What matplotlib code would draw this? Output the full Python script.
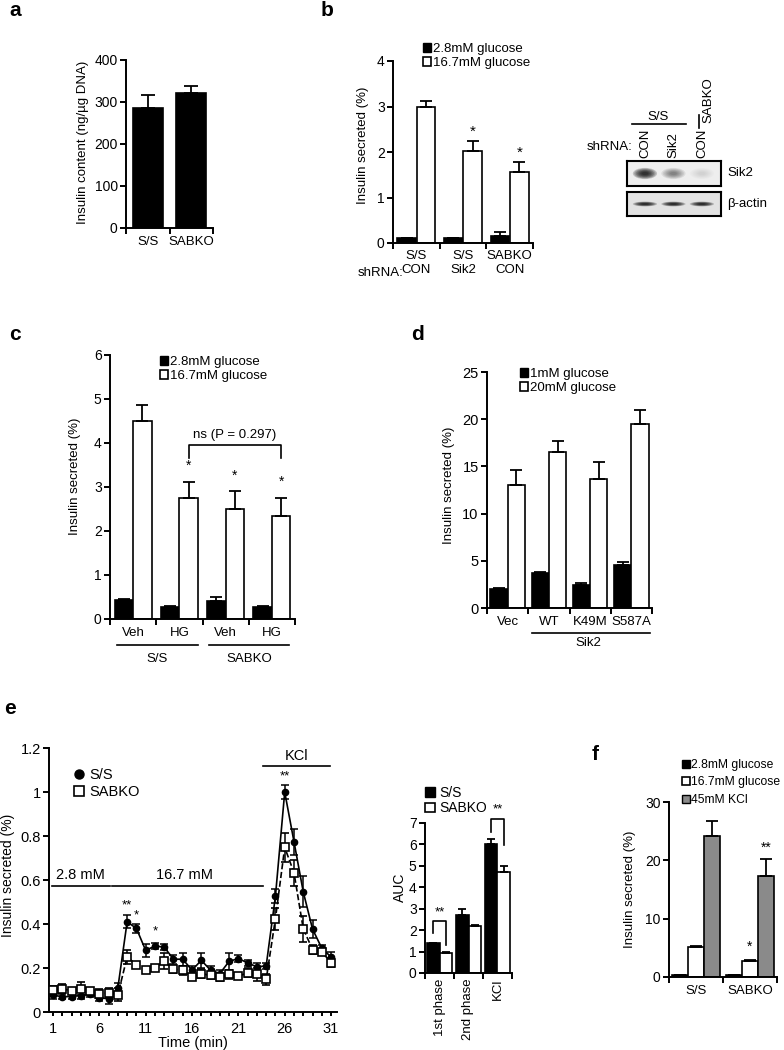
import numpy as np
import matplotlib
matplotlib.use("Agg")
import matplotlib.pyplot as plt
from matplotlib.patches import Patch, Ellipse
from matplotlib.lines import Line2D

W, H = 784, 1050
plt.rcParams['font.family'] = ['Liberation Sans', 'DejaVu Sans']
plt.rcParams['font.size'] = 9.5
plt.rcParams['axes.linewidth'] = 1.4

# --- data ---
a_groups = ["S/S", "SABKO"]
a_vals = [285, 322]
a_err = [32, 15]

b_geno = ["S/S", "S/S", "SABKO"]
b_shrna = ["CON", "Sik2", "CON"]
b_low = [0.10, 0.10, 0.16]
b_low_err = [0.01, 0.01, 0.08]
b_high = [3.0, 2.02, 1.55]
b_high_err = [0.11, 0.23, 0.22]
b_star = ["", "*", "*"]

blot_lanes = ["CON", "Sik2", "CON"]
sik2_band = [0.9, 0.35, 0.08]
actin_band = [0.95, 0.95, 0.95]

c_treat = ["Veh", "HG", "Veh", "HG"]
c_low = [0.43, 0.28, 0.42, 0.27]
c_low_err = [0.03, 0.02, 0.07, 0.02]
c_high = [4.5, 2.74, 2.51, 2.33]
c_high_err = [0.37, 0.38, 0.39, 0.43]
c_star = ["", "*", "*", "*"]

d_labels = ["Vec", "WT", "K49M", "S587A"]
d_low = [2.0, 3.75, 2.4, 4.55]
d_low_err = [0.15, 0.1, 0.2, 0.35]
d_high = [13.07, 16.5, 13.65, 19.45]
d_high_err = [1.55, 1.15, 1.85, 1.55]

e_time = list(range(1, 32))
e_ss = [0.076, 0.07, 0.07, 0.075, 0.08, 0.065, 0.06, 0.11, 0.41, 0.38, 0.28, 0.30,
        0.295, 0.24, 0.24, 0.19, 0.235, 0.19, 0.175, 0.23, 0.243, 0.223, 0.205, 0.21,
        0.527, 1.0, 0.774, 0.546, 0.377, 0.29, 0.25]
e_ss_err = [0.015, 0.01, 0.01, 0.015, 0.01, 0.015, 0.025, 0.02, 0.03, 0.02, 0.03, 0.015,
            0.015, 0.02, 0.03, 0.02, 0.035, 0.02, 0.015, 0.04, 0.015, 0.015, 0.02, 0.015,
            0.03, 0.03, 0.06, 0.07, 0.04, 0.015, 0.025]
e_ko = [0.10, 0.106, 0.096, 0.106, 0.096, 0.083, 0.087, 0.079, 0.25, 0.215, 0.193, 0.20,
        0.232, 0.194, 0.19, 0.16, 0.175, 0.166, 0.158, 0.172, 0.163, 0.178, 0.172, 0.148,
        0.425, 0.748, 0.633, 0.378, 0.284, 0.273, 0.225]
e_ko_err = [0.02, 0.02, 0.015, 0.03, 0.015, 0.02, 0.02, 0.03, 0.03, 0.01, 0.01, 0.015,
            0.035, 0.015, 0.02, 0.015, 0.02, 0.015, 0.015, 0.02, 0.015, 0.02, 0.03, 0.025,
            0.05, 0.065, 0.06, 0.06, 0.02, 0.015, 0.02]

auc_groups = ["1st phase", "2nd phase", "KCl"]
auc_ss = [1.4, 2.71, 6.0]
auc_ss_err = [0.02, 0.27, 0.25]
auc_ko = [0.93, 2.18, 4.72]
auc_ko_err = [0.05, 0.05, 0.27]

f_groups = ["S/S", "SABKO"]
f_low = [0.3, 0.3]
f_low_err = [0.05, 0.05]
f_high = [5.1, 2.75]
f_high_err = [0.2, 0.25]
f_kcl = [24.1, 17.3]
f_kcl_err = [2.7, 2.9]

fig = plt.figure(figsize=(W / 100, H / 100), dpi=100)


def add_ax(l, t, r, b, fs=10):
    ax = fig.add_axes([l / W, 1 - b / H, (r - l) / W, (b - t) / H])
    ax.spines[['top', 'right']].set_visible(False)
    ax.tick_params(direction='out', length=4, width=1.4, pad=2, labelsize=fs)
    return ax


def ftxt(x, y, s, **kw):
    kw.setdefault('ha', 'center')
    kw.setdefault('va', 'center')
    fig.text(x / W, 1 - y / H, s, **kw)


def fline(xs, ys, lw=1.2):
    fig.add_artist(Line2D([x / W for x in xs], [1 - y / H for y in ys], color='black', lw=lw))


def bars(ax, x, vals, err, color, width, capsize=4):
    ax.bar(x, vals, width, color=color, edgecolor='black', linewidth=1.2, zorder=2)
    ax.errorbar(x, vals, yerr=[np.zeros(len(vals)), err], fmt='none', ecolor='black',
                elinewidth=1.3, capsize=capsize, capthick=1.3, zorder=3)


def cat_axis(ax, n, labels=None, pad=6, **kw):
    ax.set_xlim(-0.5, n - 0.5)
    ax.set_xticks(np.arange(n + 1) - 0.5)
    ax.set_xticklabels([])
    if labels is not None:
        ax.set_xticks(np.arange(n), labels, minor=True, **kw)
        ax.tick_params(axis='x', which='minor', length=0, pad=pad)


def legend_at(ax, handles, labels, x, y, fs=9.5, hl=0.6, spacing=0.15, pad=0.15):
    ax.legend(handles, labels, loc='upper left', bbox_to_anchor=(x / W, 1 - y / H),
              bbox_transform=fig.transFigure, frameon=False, borderpad=0, borderaxespad=0,
              handlelength=hl, handleheight=hl, handletextpad=pad, labelspacing=spacing,
              fontsize=fs)


blk = Patch(facecolor='black', edgecolor='black', lw=1)
wht = Patch(facecolor='white', edgecolor='black', lw=1.2)
gry = Patch(facecolor='#8a8a8a', edgecolor='black', lw=1)

# ---------------- a ----------------
ax = add_ax(126, 60, 213, 228)
x = np.arange(len(a_vals))
bars(ax, x, a_vals, a_err, 'black', 0.7, capsize=5)
ax.set_ylim(0, 400)
ax.set_yticks([0, 100, 200, 300, 400])
cat_axis(ax, 2, a_groups)
ftxt(83, 142, "Insulin content (ng/\u00b5g DNA)", rotation=90)

# ---------------- b ----------------
ax = add_ax(393, 61, 533, 243)
x = np.arange(3)
bars(ax, x - 0.21, b_low, b_low_err, 'black', 0.4, capsize=4)
bars(ax, x + 0.21, b_high, b_high_err, 'white', 0.4, capsize=4)
for i in range(3):
    if b_star[i]:
        ax.text(x[i] + 0.21, b_high[i] + b_high_err[i] + 0.05, b_star[i], ha='center', va='bottom', fontsize=11)
ax.set_ylim(0, 4)
ax.set_yticks([0, 1, 2, 3, 4])
cat_axis(ax, 3, [f"{g}\n{s}" for g, s in zip(b_geno, b_shrna)], pad=5, linespacing=1.25)
ftxt(363, 145, "Insulin secreted (%)", rotation=90)
ftxt(403, 273, "shRNA:", ha='right')
legend_at(ax, [blk, wht], ["2.8mM glucose", "16.7mM glucose"], 423, 43)

# western blot
for (top, bot, inten, lab, hgt, bg) in [(161, 186, sik2_band, "Sik2", 0.45, '#eeeeee'),
                                        (192, 216, actin_band, "\u03b2-actin", 0.2, '#e2e2e2')]:
    bx = fig.add_axes([627 / W, 1 - bot / H, 94 / W, (bot - top) / H])
    bx.set_xlim(-0.63, 2.67)
    bx.set_ylim(0, 1)
    bx.set_xticks([])
    bx.set_yticks([])
    bx.set_facecolor(bg)
    for s in bx.spines.values():
        s.set_linewidth(1.5)
    for i, v in enumerate(inten):
        for k in range(7):
            sc = 1 - k * 0.12
            bx.add_patch(Ellipse((i, 0.5), 0.85 * sc, hgt * sc, color='black', alpha=v * 0.22, lw=0))
    ftxt(727, (top + bot) / 2, lab, ha='left')
for i, lane in enumerate(blot_lanes):
    ftxt(645 + 28.5 * i, 158, lane, rotation=90, va='bottom')
ftxt(632, 147, "shRNA:", ha='right')
ftxt(658, 117, "S/S")
fline([632, 686], [124, 124])
fline([699, 699], [115, 128])
ftxt(708, 123, "SABKO", rotation=90, va='bottom')

# ---------------- c ----------------
ax = add_ax(110, 355, 295, 619)
x = np.arange(4)
bars(ax, x - 0.2, c_low, c_low_err, 'black', 0.4)
bars(ax, x + 0.2, c_high, c_high_err, 'white', 0.4)
for i in range(4):
    if c_star[i]:
        ax.text(x[i] + 0.2, c_high[i] + c_high_err[i] + 0.2, c_star[i], ha='center', va='bottom', fontsize=10)
ax.plot([1.2, 1.2, 3.2, 3.2], [3.65, 3.96, 3.96, 3.65], color='black', lw=1.2)
ax.text(2.2, 4.05, "ns (P = 0.297)", ha='center', va='bottom')
ax.set_ylim(0, 6)
ax.set_yticks(range(7))
cat_axis(ax, 4, c_treat)
ftxt(75, 476, "Insulin secreted (%)", rotation=90)
fline([117, 198], [645, 645])
fline([209, 289], [645, 645])
ftxt(157, 659, "S/S")
ftxt(249, 659, "SABKO")
legend_at(ax, [blk, wht], ["2.8mM glucose", "16.7mM glucose"], 160, 356)

# ---------------- d ----------------
ax = add_ax(487, 372, 652, 608, fs=10.5)
x = np.arange(4)
bars(ax, x - 0.21, d_low, d_low_err, 'black', 0.42)
bars(ax, x + 0.21, d_high, d_high_err, 'white', 0.42)
ax.set_ylim(0, 25)
ax.set_yticks([0, 5, 10, 15, 20, 25])
cat_axis(ax, 4, d_labels)
ax.tick_params(axis='x', which='minor', labelsize=9.5)
ftxt(449, 485, "Insulin secreted (%)", rotation=90)
fline([532, 650], [633, 633])
ftxt(588, 643, "Sik2")
legend_at(ax, [blk, wht], ["1mM glucose", "20mM glucose"], 520, 368)

# ---------------- e ----------------
ax = add_ax(49, 748, 337, 1012, fs=10.5)
ax.errorbar(e_time, e_ss, yerr=e_ss_err, fmt='-o', color='black', ms=4.5, lw=1.2,
            elinewidth=1.1, capsize=3, capthick=1.1, zorder=3)
ax.errorbar(e_time, e_ko, yerr=e_ko_err, fmt='--s', color='black', mfc='white', mec='black',
            ms=5.5, mew=1.2, lw=1.2, elinewidth=1.1, capsize=3, capthick=1.1, zorder=4)
ax.set_xlim(0.57, 31.64)
ax.set_ylim(0, 1.2)
ax.set_xticks(e_time)
ax.set_xticklabels([str(t) if (t - 1) % 5 == 0 else "" for t in e_time])
ax.set_yticks([0, 0.2, 0.4, 0.6, 0.8, 1.0, 1.2])
ax.set_yticklabels(["0", "0.2", "0.4", "0.6", "0.8", "1", "1.2"])
ax.tick_params(axis='x', length=3, pad=4)
ax.set_xlabel("Time (min)", fontsize=10.5, labelpad=0)
ax.plot([0.86, 7.15], [0.573, 0.573], color='black', lw=1.2, clip_on=False)
ax.plot([7.4, 23.7], [0.573, 0.573], color='black', lw=1.2, clip_on=False)
ax.plot([23.7, 30.9], [1.117, 1.117], color='black', lw=1.2, clip_on=False)
ax.text(3.95, 0.59, "2.8 mM", ha='center', va='bottom', fontsize=10.5)
ax.text(15.2, 0.59, "16.7 mM", ha='center', va='bottom', fontsize=10.5)
ax.text(27.3, 1.13, "KCl", ha='center', va='bottom', fontsize=10.5, clip_on=False)
for t, yv, s in [(9, 0.485, "**"), (10, 0.44, "*"), (12, 0.365, "*"), (26, 1.07, "**")]:
    ax.text(t, yv, s, ha='center', va='center', fontsize=9.5)
ftxt(8, 875, "Insulin secreted (%)", rotation=90, fontsize=10)
hs = [Line2D([], [], marker='o', color='black', ls='none', ms=6.5),
      Line2D([], [], marker='s', color='black', mfc='white', ls='none', ms=6.5, mew=1.2)]
legend_at(ax, hs, ["S/S", "SABKO"], 72, 768, fs=10.5, hl=0.9, spacing=0.2, pad=0.3)

# ---------------- AUC ----------------
ax = add_ax(425, 823, 512, 973)
x = np.arange(3)
bars(ax, x - 0.22, auc_ss, auc_ss_err, 'black', 0.44, capsize=3)
bars(ax, x + 0.22, auc_ko, auc_ko_err, 'white', 0.44, capsize=3)
ax.plot([-0.22, -0.22, 0.22, 0.22], [1.86, 2.45, 2.45, 1.3], color='black', lw=1.2)
ax.text(0, 2.55, "**", ha='center', va='bottom', fontsize=9.5)
ax.plot([1.78, 1.78, 2.22, 2.22], [6.6, 7.2, 7.2, 5.97], color='black', lw=1.2, clip_on=False)
ax.text(2, 7.35, "**", ha='center', va='bottom', fontsize=9.5, clip_on=False)
ax.set_ylim(0, 7)
ax.set_yticks(range(8))
cat_axis(ax, 3, auc_groups, pad=4, rotation=90, va='top')
ftxt(400, 887, "AUC", rotation=90, fontsize=10)
legend_at(ax, [blk, wht], ["S/S", "SABKO"], 425, 786, fs=10, hl=0.7, spacing=0.1, pad=0.3)

# ---------------- f ----------------
ax = add_ax(669, 802, 777, 977)
x = np.arange(2)
bars(ax, x - 0.3, f_low, f_low_err, 'black', 0.3)
bars(ax, x, f_high, f_high_err, 'white', 0.3)
bars(ax, x + 0.3, f_kcl, f_kcl_err, '#8a8a8a', 0.3)
ax.text(1, 4.0, "*", ha='center', va='bottom', fontsize=10)
ax.text(1.3, 21.0, "**", ha='center', va='bottom', fontsize=10)
ax.set_ylim(0, 30)
ax.set_yticks([0, 10, 20, 30])
cat_axis(ax, 2, f_groups)
ftxt(630, 889, "Insulin secreted (%)", rotation=90)
legend_at(ax, [blk, wht, gry], ["2.8mM glucose", "16.7mM glucose", "45mM KCl"], 682, 759,
          fs=8.7, hl=0.65, spacing=0.45, pad=0.12)

# panel letters
for s, px, py in [("a", 15, 11), ("b", 327, 11), ("c", 15, 334), ("d", 417, 334),
                  ("e", 10, 708), ("f", 595, 754)]:
    ftxt(px, py, s, fontsize=15, fontweight='bold')

fig.savefig("out.png", dpi=100)
